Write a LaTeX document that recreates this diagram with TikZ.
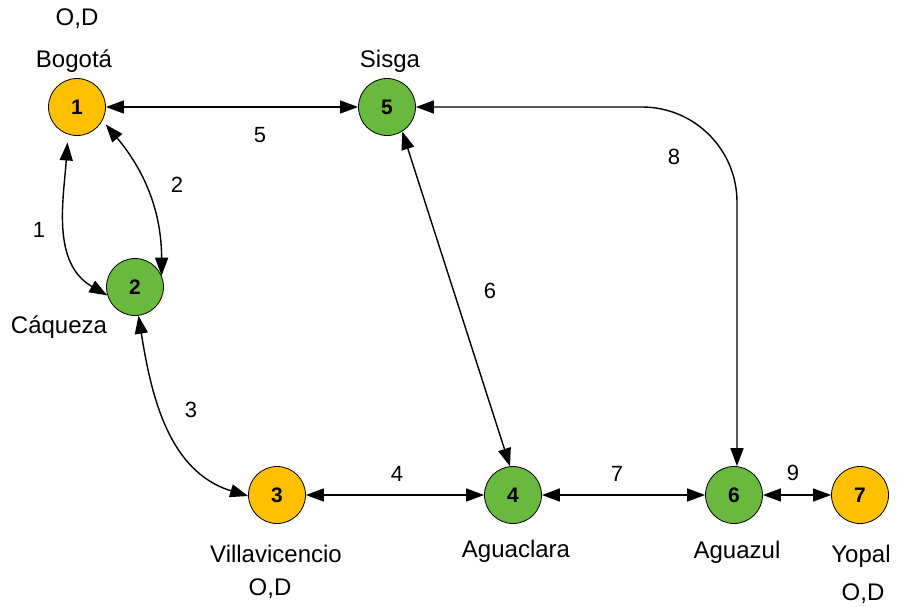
\documentclass[tikz,border=0pt]{standalone}
\usepackage{fontspec}
\setmainfont{Liberation Sans}
\usetikzlibrary{arrows.meta}
\definecolor{odcolor}{RGB}{255,192,0}
\definecolor{transit}{RGB}{106,185,63}

\begin{document}
\begin{tikzpicture}[x=1pt,y=1pt,
  city/.style={circle, draw, line width=0.8pt, minimum size=57pt, inner sep=0pt,
    font=\fontsize{21}{21}\selectfont\bfseries},
  od/.style={city, fill=odcolor},
  tr/.style={city, fill=transit},
  place/.style={anchor=base, font=\fontsize{24}{24}\selectfont},
  cost/.style={font=\fontsize{22}{22}\selectfont},
  link/.style={line width=1.4pt, {Triangle[length=18pt,width=13pt]}-{Triangle[length=18pt,width=13pt]}}]

\useasboundingbox (0,0) rectangle (897,-606);

% cities
\node[od] (n1) at (77,-107) {1};
\node[tr] (n2) at (135,-287) {2};
\node[od] (n3) at (277,-495) {3};
\node[tr] (n4) at (513,-495) {4};
\node[tr] (n5) at (387,-107) {5};
\node[tr] (n6) at (734,-495) {6};
\node[od] (n7) at (860,-495) {7};

% city names and origin/destination marks
\node[place] (lod1) at (77,-25) {O,D};
\node[place] (lbog) at (74,-67) {Bogotá};
\node[place] (lsis) at (390,-67) {Sisga};
\node[place] (lcaq) at (59,-333) {Cáqueza};
\node[place] (lvil) at (276,-562) {Villavicencio};
\node[place] (lod3) at (270,-595) {O,D};
\node[place] (lagc) at (516,-557) {Aguaclara};
\node[place] (lagz) at (737,-558) {Aguazul};
\node[place] (lyop) at (861,-562) {Yopal};
\node[place] (lod7) at (863,-600) {O,D};

% links
\draw[link] (n1) -- (n5);
\draw[link, shorten <=8pt] (n1.252) to[out=-94, in=150] (n2.197);
\draw[link, shorten <=5pt] (n1.-28) to[out=-50, in=90] (n2.23);
\draw[link] (n2.-83) to[out=-81, in=163] (n3.182);
\draw[link] (n3) -- (n4);
\draw[link] (n5.-58) -- (n4.96);
\draw[link] (n4) -- (n6);
\draw[link, rounded corners=95pt] (n5.east) -| ([xshift=3pt]n6.north);
\draw[link] (n6) -- (n7);

% link numbers
\node[cost] (c1) at (39,-230) {1};
\node[cost] (c2) at (177,-185) {2};
\node[cost] (c3) at (191,-410) {3};
\node[cost] (c4) at (397,-474) {4};
\node[cost] (c5) at (260,-135) {5};
\node[cost] (c6) at (490,-291) {6};
\node[cost] (c7) at (617,-474) {7};
\node[cost] (c8) at (674,-157) {8};
\node[cost] (c9) at (793,-473) {9};
\end{tikzpicture}
\end{document}
